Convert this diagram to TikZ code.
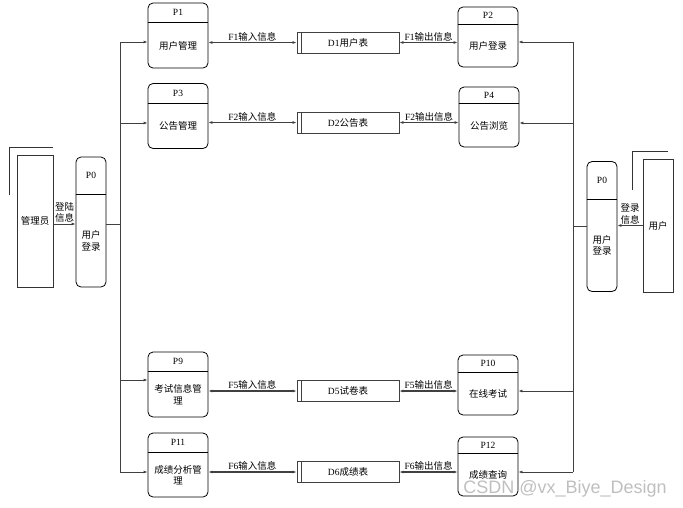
\documentclass[tikz,border=0pt]{standalone}
\usepackage{fontspec}
\setmainfont{Liberation Serif}
\newfontfamily\cjk{Noto Sans CJK SC}
\newfontfamily\wmfont{Liberation Sans}
\usetikzlibrary{arrows.meta,calc}

\begin{document}
\begin{tikzpicture}[
        x=1pt, y=-1pt,
        every node/.style={font=\fontsize{9.5}{11.5}\selectfont},
        zh/.style={font=\cjk\fontsize{9.5}{11.5}\selectfont, align=center},
        proc/.style={draw, line width=0.8pt, rounded corners=5pt, minimum width=60pt, inner sep=0pt},
        sep/.style={line width=1.2pt},
        store/.style={draw=black!75, line width=0.9pt, minimum width=102pt, minimum height=21pt, inner sep=0pt},
        ent/.style={draw=black!80, line width=0.8pt, minimum width=36pt, inner sep=0pt},
        arr/.style={-{Latex[length=4pt,width=3pt]}, black!75, line width=0.9pt},
        darr/.style={{Latex[length=4pt,width=3pt]}-{Latex[length=4pt,width=3pt]}, black!75, line width=1.1pt},
        bus/.style={black!75, line width=0.9pt},
        flow/.style={above, inner sep=1pt, text=black},
    ]
        \useasboundingbox (0,0) rectangle (683,507);

        % processes
        \foreach \n/\x/\y/\h/\hd/\t/\b in {
            p1/178/35.5/65/20/P1/用户管理,
            p2/488/37/60/18/P2/用户登录,
            p3/178/116/65/20/P3/公告管理,
            p4/489/117/60/17/P4/公告浏览,
            p9/178/384.5/65/20/P9/考试信息管\\理,
            p10/488/385/60/18/P10/在线考试,
            p11/178/465/64/20/P11/成绩分析管\\理,
            p12/488/466.5/59/17/P12/成绩查询}
        {
            \node[proc, minimum height=\h pt] (\n) at (\x,\y) {};
            \node (\n-hd) at ([yshift={-\hd pt/2}]\n.north) {\t};
            \draw[sep] ([yshift=-\hd pt]\n.north west) -- ([yshift=-\hd pt]\n.north east);
            \node[zh] (\n-tx) at ($(\n.south)!0.5!([yshift=-\hd pt]\n.north)$) {\b};
        }

        % login processes
        \node[proc, minimum width=30pt, minimum height=130pt] (p0l) at (91,222) {};
        \node (p0l-hd) at ([yshift=-19pt]p0l.north) {P0};
        \draw[sep] ([yshift=-38pt]p0l.north west) -- ([yshift=-38pt]p0l.north east);
        \node[zh] (p0l-tx) at ([yshift=-19pt]p0l.center) {用户\\登录};

        \node[proc, minimum width=30pt, minimum height=130pt] (p0r) at (602,226.5) {};
        \node (p0r-hd) at ([yshift=-19pt]p0r.north) {P0};
        \draw[sep] ([yshift=-38pt]p0r.north west) -- ([yshift=-38pt]p0r.north east);
        \node[zh] (p0r-tx) at ([yshift=-19pt]p0r.center) {用户\\登录};

        % entities
        \node[ent, minimum height=132pt, zh] (adm) at (35,221) {管理员};
        \draw[black!80, line width=0.8pt] ([xshift=-7pt,yshift=-40pt]adm.north west) -- ([xshift=-7pt,yshift=7pt]adm.north west) -- ([yshift=7pt]adm.north east);
        \node[ent, minimum width=30pt, minimum height=133pt, zh] (usr) at (658,225.5) {用户};
        \draw[black!80, line width=0.8pt] ([xshift=-10pt,yshift=-31pt]usr.north west) -- ([xshift=-10pt,yshift=7pt]usr.north west) -- ([xshift=-5pt,yshift=7pt]usr.north east);

        % data stores
        \node[store] (d1) at (348,42.5) {D1{\cjk 用户表}};
        \node[store] (d2) at (348,122.5) {D2{\cjk 公告表}};
        \node[store] (d5) at (348,391) {D5{\cjk 试卷表}};
        \node[store] (d6) at (348,472) {D6{\cjk 成绩表}};
        \foreach \d in {d1,d2,d5,d6}
            \draw[black!75, line width=0.9pt] ([xshift=5pt]\d.north west) -- ([xshift=5pt]\d.south west);

        % left bus
        \coordinate (lt) at (120,42);
        \coordinate (l3) at (120,123);
        \coordinate (l9) at (120,380);
        \coordinate (lb) at (120,472);
        \draw[bus] (lt) -- (lb);
        \draw[bus] ([yshift=-2pt]p0l.east) -- ([yshift=-2pt]p0l.east -| lt);
        \draw[arr] (lt) -- (lt -| p1.west);
        \draw[arr] (l3) -- (l3 -| p3.west);
        \draw[arr] (l9) -- (l9 -| p9.west);
        \draw[arr] (lb) -- (lb -| p11.west);

        % right bus
        \coordinate (rt) at (573,42);
        \coordinate (r4) at (573,123);
        \coordinate (r10) at (573,391);
        \coordinate (rb) at (573,472);
        \draw[bus] (rt) -- (rb);
        \draw[bus] (p0r.west) -- (p0r.west -| rt);
        \draw[arr] (rt) -- (rt -| p2.east);
        \draw[arr] (r4) -- (r4 -| p4.east);
        \draw[arr] (r10) -- (r10 -| p10.east);
        \draw[arr] (rb) -- (rb -| p12.east);

        % login flows
        \draw[arr] ([yshift=-3pt]adm.east) -- node[flow, zh] {登陆\\信息} ([yshift=-3pt]adm.east -| p0l.west);
        \draw[arr] (usr.west) -- node[flow, zh] {登录\\信息} (usr.west -| p0r.east);

        % data flows
        \draw[darr] (d1.west -| p1.east) -- node[flow] {F1{\cjk 输入信息}} (d1.west);
        \draw[darr] (d1.east) -- node[flow] {F1{\cjk 输出信息}} (d1.east -| p2.west);
        \draw[darr] (d2.west -| p3.east) -- node[flow] {F2{\cjk 输入信息}} (d2.west);
        \draw[darr] (d2.east) -- node[flow] {F2{\cjk 输出信息}} (d2.east -| p4.west);
        \draw[darr] (d5.west -| p9.east) -- node[flow] {F5{\cjk 输入信息}} (d5.west);
        \draw[darr] (d5.east) -- node[flow] {F5{\cjk 输出信息}} (d5.east -| p10.west);
        \draw[darr] (d6.west -| p11.east) -- node[flow] {F6{\cjk 输入信息}} (d6.west);
        \draw[darr] (d6.east) -- node[flow] {F6{\cjk 输出信息}} (d6.east -| p12.west);

        \node[font=\wmfont\fontsize{18}{18}\selectfont, text=gray!50] (wm) at (565,489) {CSDN @vx\_Biye\_Design};
    \end{tikzpicture}
\end{document}
